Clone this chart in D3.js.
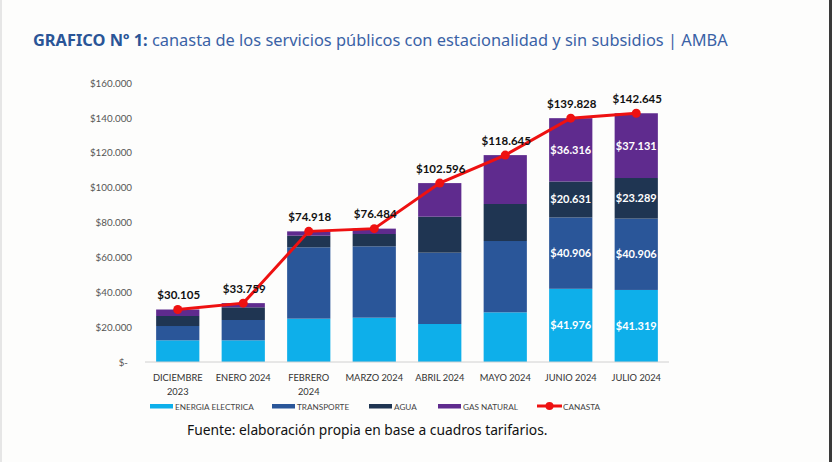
<!DOCTYPE html>
<meta charset="utf-8">
<style>
    body { margin: 0; background: #fdfdfc; }
    svg { display: block; }
    .title { font-family: "Noto Sans", sans-serif; font-size: 16.4px; }
    .axis text { font-family: Lato, sans-serif; font-size: 9.8px; fill: #555; }
    .xlab { font-family: Lato, sans-serif; font-size: 9.3px; fill: #333; }
    .legend text { font-family: Lato, sans-serif; font-size: 8.2px; fill: #444; }
    .val { font-family: Lato, sans-serif; font-size: 11.5px; font-weight: bold; }
    .inner { font-size: 11px; }
    .src { font-family: "Noto Sans", sans-serif; font-size: 13.8px; fill: #111; }
</style>
<svg width="832" height="462"></svg>
<script src="https://d3js.org/d3.v7.min.js"></script>
<script>

    // meses
    var months = ["DICIEMBRE|2023", "ENERO 2024", "FEBRERO|2024", "MARZO 2024", "ABRIL 2024", "MAYO 2024", "JUNIO 2024", "JULIO 2024"];

    // componentes de la canasta
    var energia    = [12440, 12440, 24850, 25420, 21790, 28480, 41976, 41319];
    var transporte = [8200, 11650, 40906, 40906, 40906, 40906, 40906, 40906];
    var agua       = [5740, 7270, 6694, 7074, 20644, 21224, 20631, 23289];
    var gas        = [3725, 2399, 2468, 3084, 19256, 28035, 36316, 37131];
    var canasta    = [30105, 33759, 74918, 76484, 102596, 118645, 139828, 142645];

    var seriesNames = ["ENERGIA ELECTRICA", "TRANSPORTE", "AGUA", "GAS NATURAL"];
    var seriesColors = ["#0eafea", "#2a5699", "#1f3552", "#5f2b8e"];
    var yTicks = [0, 20000, 40000, 60000, 80000, 100000, 120000, 140000, 160000];

    var svg = d3.select("svg");

    var loc = d3.formatLocale({decimal: ",", thousands: ".", grouping: [3], currency: ["$", ""]});
    var money = function(v) { return v === 0 ? "$-" : "$" + loc.format(",")(v); };

    // bordes de la captura
    svg.append("rect").attr("x", 829).attr("y", 0).attr("width", 3).attr("height", 462).attr("fill", "#3a3a3a");
    svg.append("rect").attr("x", 0).attr("y", 0).attr("width", 2).attr("height", 462).attr("fill", "#e6e6e6");

    // titulo
    var title = svg.append("text").attr("class", "title").attr("x", 33).attr("y", 46);
    title.append("tspan").attr("font-weight", "bold").attr("fill", "#2a5597").text("GRAFICO Nº 1: ");
    title.append("tspan").attr("fill", "#3a62a6").text("canasta de los servicios públicos con estacionalidad y sin subsidios | AMBA");

    var x = d3.scaleBand()
        .domain(months)
        .range([145, 669])
        .paddingInner(0.34)
        .paddingOuter(0.17);

    var y = d3.scaleLinear()
        .domain([0, 160000])
        .range([362, 83]);

    // eje y
    svg.append("g")
        .attr("class", "axis")
        .attr("transform", "translate(145,0)")
        .call(d3.axisLeft(y).tickValues(yTicks).tickSize(0).tickPadding(13).tickFormat(money))
        .call(function(g) { g.select(".domain").remove(); })
        .selectAll("text").attr("dx", function(d) { return d === 0 ? -4 : 0; });

    var rows = months.map(function(m, i) {
        return {month: m, s0: energia[i], s1: transporte[i], s2: agua[i], s3: gas[i]};
    });
    var stack = d3.stack().keys(["s0", "s1", "s2", "s3"])(rows);

    var layer = svg.append("g").selectAll("g")
        .data(stack)
        .enter().append("g")
        .attr("fill", function(d, i) { return seriesColors[i]; });

    layer.selectAll("rect")
        .data(function(d) { return d; })
        .enter().append("rect")
        .attr("x", function(d) { return x(d.data.month); })
        .attr("width", x.bandwidth())
        .attr("y", function(d) { return y(d[1]); })
        .attr("height", function(d) { return y(d[0]) - y(d[1]); });

    // etiquetas internas (junio y julio)
    layer.selectAll("text")
        .data(function(d) { return d.filter(function(p, i) { return i >= 6; }); })
        .enter().append("text")
        .attr("class", "val inner")
        .attr("fill", "#fff")
        .attr("text-anchor", "middle")
        .attr("x", function(d) { return x(d.data.month) + x.bandwidth() / 2; })
        .attr("y", function(d) { return (y(d[0]) + y(d[1])) / 2 + 4; })
        .text(function(d) { return money(d[1] - d[0]); });

    // linea base
    svg.append("line")
        .attr("x1", 145).attr("x2", 669)
        .attr("y1", y(0)).attr("y2", y(0))
        .attr("stroke", "#d0d0d0").attr("stroke-width", 1);

    // etiquetas x
    var xl = svg.append("g").selectAll("text")
        .data(months)
        .enter().append("text")
        .attr("class", "xlab")
        .attr("text-anchor", "middle")
        .attr("x", function(d) { return x(d) + x.bandwidth() / 2; })
        .attr("y", 381);
    xl.selectAll("tspan")
        .data(function(d) { return d.split("|"); })
        .enter().append("tspan")
        .attr("x", function() { return d3.select(this.parentNode).attr("x"); })
        .attr("dy", function(d, i) { return i === 0 ? 0 : 13.5; })
        .text(function(d) { return d; });

    // linea canasta
    var cx = function(i) { return x(months[i]) + x.bandwidth() / 2; };
    svg.append("path")
        .datum(canasta)
        .attr("fill", "none")
        .attr("stroke", "#ee1111")
        .attr("stroke-width", 3)
        .attr("d", d3.line().x(function(d, i) { return cx(i); }).y(function(d) { return y(d); }));

    svg.append("g").selectAll("circle")
        .data(canasta)
        .enter().append("circle")
        .attr("cx", function(d, i) { return cx(i); })
        .attr("cy", function(d) { return y(d); })
        .attr("r", 4.5)
        .attr("fill", "#ee1111");

    svg.append("g").selectAll("text")
        .data(canasta)
        .enter().append("text")
        .attr("class", "val")
        .attr("fill", "#111")
        .attr("text-anchor", "middle")
        .attr("x", function(d, i) { return cx(i) + 1; })
        .attr("y", function(d) { return y(d) - 10.5; })
        .text(money);

    // leyenda
    var legend = svg.append("g").attr("class", "legend");
    var legX = [150, 272, 369, 438];
    seriesNames.forEach(function(n, i) {
        legend.append("rect").attr("x", legX[i]).attr("y", 404).attr("width", 23).attr("height", 4.5).attr("fill", seriesColors[i]);
        legend.append("text").attr("x", legX[i] + 25).attr("y", 409.5).text(n);
    });
    legend.append("line").attr("x1", 537).attr("x2", 562).attr("y1", 406).attr("y2", 406)
        .attr("stroke", "#ee1111").attr("stroke-width", 3);
    legend.append("circle").attr("cx", 549.5).attr("cy", 406).attr("r", 4).attr("fill", "#ee1111");
    legend.append("text").attr("x", 563).attr("y", 409.5).text("CANASTA");

    // fuente
    svg.append("text").attr("class", "src").attr("x", 187).attr("y", 435)
        .text("Fuente: elaboración propia en base a cuadros tarifarios.");

</script>
